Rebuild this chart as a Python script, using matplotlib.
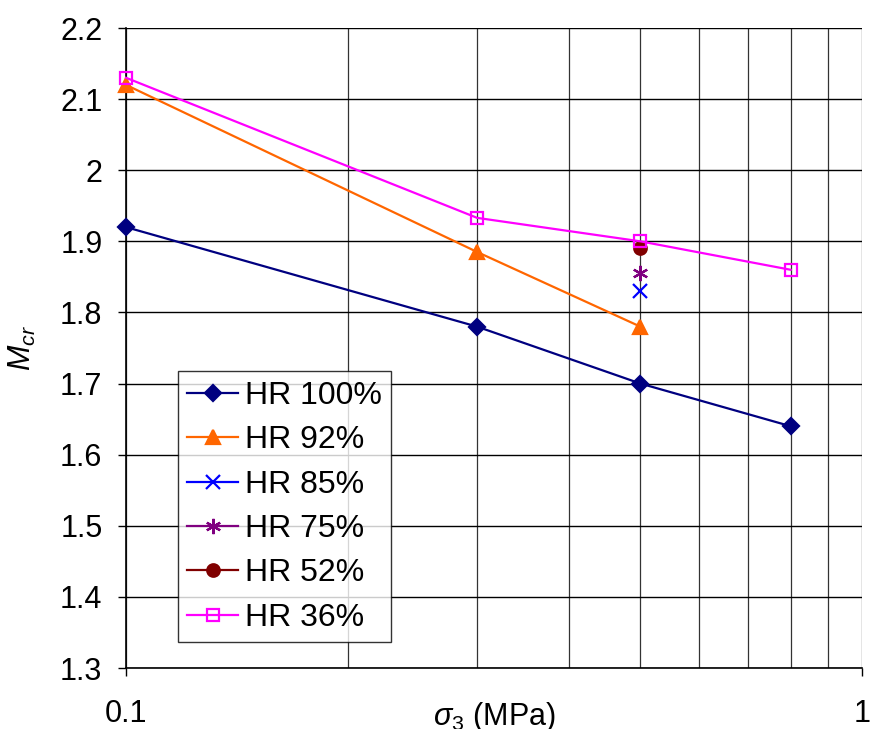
import matplotlib
matplotlib.use("Agg")
from matplotlib import pyplot as plt
from matplotlib.ticker import FixedLocator, NullFormatter
import numpy as np

plt.rcParams['font.family'] = ['Liberation Sans', 'DejaVu Sans']
plt.rcParams['mathtext.fontset'] = 'custom'
plt.rcParams['mathtext.it'] = 'Liberation Sans:italic'
plt.rcParams['mathtext.rm'] = 'Liberation Sans'

# confining pressure (MPa) and critical stress ratio per humidity
sigma3_hr100 = [0.1, 0.3, 0.5, 0.8]
mcr_hr100 = [1.92, 1.78, 1.70, 1.64]
sigma3_hr92 = [0.1, 0.3, 0.5]
mcr_hr92 = [2.12, 1.885, 1.78]
sigma3_hr85 = [0.5]
mcr_hr85 = [1.83]
sigma3_hr75 = [0.5]
mcr_hr75 = [1.855]
sigma3_hr52 = [0.5]
mcr_hr52 = [1.89]
sigma3_hr36 = [0.1, 0.3, 0.5, 0.8]
mcr_hr36 = [2.13, 1.933, 1.90, 1.86]

series = [
    ("HR 100%", sigma3_hr100, mcr_hr100, "#000080", "D", 8, "#000080"),
    ("HR 92%", sigma3_hr92, mcr_hr92, "#FF6600", "^", 10, "#FF6600"),
    ("HR 85%", sigma3_hr85, mcr_hr85, "#0000FF", "x", 10, "#0000FF"),
    ("HR 75%", sigma3_hr75, mcr_hr75, "#800080", (6, 2, 0), 11, "#800080"),
    ("HR 52%", sigma3_hr52, mcr_hr52, "#800000", "o", 9, "#800000"),
    ("HR 36%", sigma3_hr36, mcr_hr36, "#FF00FF", "s", 9, "none"),
]

fig = plt.figure(figsize=(8.72, 7.29), dpi=100)
ax = fig.add_axes([126 / 872, 61 / 729, 736 / 872, 640 / 729])

for label, xs, ys, color, marker, ms, face in series:
    ax.plot(xs, ys, color=color, lw=1.6, marker=marker, ms=ms,
            markerfacecolor=face, markeredgecolor=color, mew=1.6,
            label=label, clip_on=False, zorder=3)

ax.set_xscale('log')
ax.set_xlim(0.1, 1)
ax.set_ylim(1.3, 2.2)
yticks = np.arange(1.3, 2.21, 0.1)
ax.set_yticks(yticks)
ax.set_yticklabels(["2" if abs(v - 2) < 1e-6 else "%.1f" % v for v in yticks])
ax.xaxis.set_major_locator(FixedLocator([0.1, 1]))
ax.set_xticklabels(["0.1", "1"])
ax.xaxis.set_minor_locator(FixedLocator([0.2, 0.3, 0.4, 0.5, 0.6, 0.7, 0.8, 0.9]))
ax.xaxis.set_minor_formatter(NullFormatter())

ax.grid(True, axis='y', which='major', color='black', lw=1.0)
ax.grid(True, axis='x', which='both', color='#333333', lw=0.9)
for side in ['top', 'right']:
    ax.spines[side].set_visible(False)
ax.spines['left'].set_linewidth(1.2)
ax.spines['bottom'].set_linewidth(1.2)

ax.tick_params(axis='y', direction='out', length=6, width=1, labelsize=22, pad=11)
ax.tick_params(axis='x', which='major', direction='out', length=6, width=1,
               labelsize=22, pad=16)
ax.tick_params(axis='x', which='minor', length=0)

ax.set_xlabel(r'$\sigma_{3}$ (MPa)', fontsize=22)
ax.xaxis.set_label_coords(0.5, -0.05)
ax.set_ylabel(r'$M_{cr}$', fontsize=22)
ax.yaxis.set_label_coords(-0.12, 0.5)

leg = ax.legend(loc='lower left', bbox_to_anchor=(0.07, 0.04), fontsize=23,
                frameon=True, fancybox=False, edgecolor='black',
                handlelength=1.6, handletextpad=0.2, labelspacing=0.45,
                borderpad=0.3, borderaxespad=0)
leg.get_frame().set_linewidth(1.0)
leg.set_zorder(5)

plt.savefig('out.png', dpi=100)
